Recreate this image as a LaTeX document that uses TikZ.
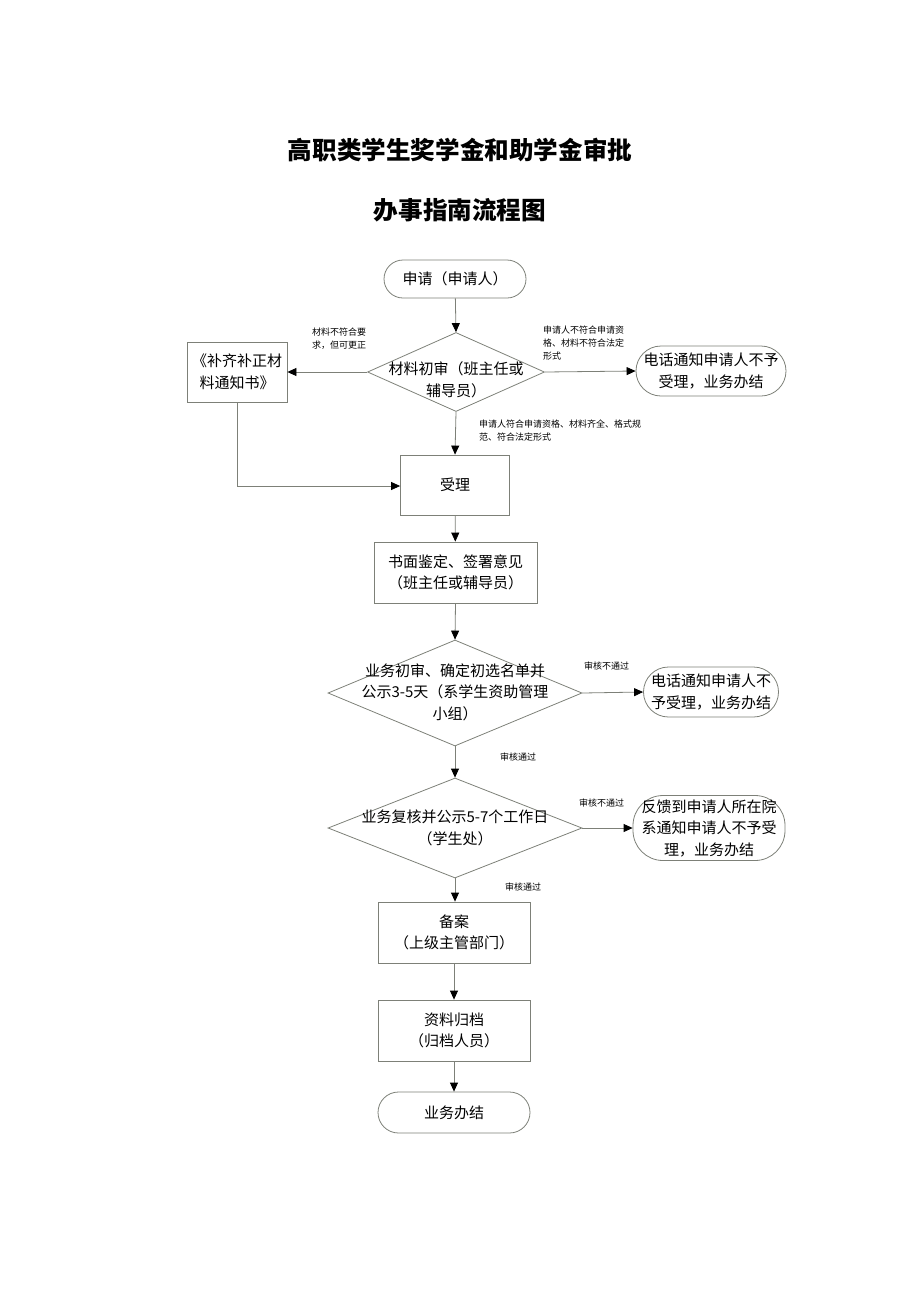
\documentclass[tikz,border=0pt]{standalone}
\usepackage{fontspec}
\setmainfont{Noto Sans CJK SC}
\usetikzlibrary{shapes.geometric,shapes.misc,arrows.meta}
\definecolor{lineC}{RGB}{125,128,120}
\tikzset{
  body/.style={font=\fontsize{15}{21.5}\selectfont, align=center, text=black},
  small/.style={font=\fontsize{9}{13}\selectfont, align=left, text=black, inner sep=0pt, anchor=north west},
  boxst/.style={draw=lineC, line width=0.8pt, rectangle, inner sep=0pt},
  roundst/.style={draw=lineC, line width=0.8pt, rounded rectangle, inner sep=0pt},
  diast/.style={draw=lineC, line width=0.8pt, diamond, inner sep=0pt},
  arr/.style={draw=lineC, line width=0.8pt, -{Triangle[length=9pt,width=8pt,color=black]}},
  ln/.style={draw=lineC, line width=0.8pt}
}
\begin{document}
\begin{tikzpicture}[x=1pt,y=-1pt]
\useasboundingbox (0,0) rectangle (920,1302);
% titles
\node[font=\fontsize{24.6}{30}\selectfont\bfseries] (t1) at (460,150) {高职类学生奖学金和助学金审批};
\node[font=\fontsize{24.6}{30}\selectfont\bfseries] (t2) at (460,210) {办事指南流程图};
% start
\node[roundst, minimum width=142pt, minimum height=38pt, body] (start) at (455,279) {申请（申请人）};
% diamond 1
\node[diast, minimum width=177pt, minimum height=79pt] (d1) at (456,372) {};
\node[body] (d1t) at (456,380) {材料初审（班主任或\\辅导员）};
% left box
\node[boxst, minimum width=100pt, minimum height=60pt, body] (lb) at (237,372) {《补齐补正材\\料通知书》};
% right rounded 1
\node[roundst, minimum width=150pt, minimum height=50pt, body] (r1) at (711,371) {电话通知申请人不予\\受理，业务办结};
% accept
\node[boxst, minimum width=109pt, minimum height=60pt, body] (acc) at (455,485) {受理};
% box 3
\node[boxst, minimum width=163pt, minimum height=61pt, body] (b3) at (455.5,572.5) {书面鉴定、签署意见\\（班主任或辅导员）};
% diamond 2
\node[diast, minimum width=254pt, minimum height=106pt] (d2) at (455,693) {};
\node[body] (d2t) at (455,692) {业务初审、确定初选名单并\\公示3-5天（系学生资助管理\\小组）};
% right rounded 2
\node[roundst, minimum width=134pt, minimum height=50pt, body] (r2) at (711,692) {电话通知申请人不\\予受理，业务办结};
% diamond 3
\node[diast, minimum width=254pt, minimum height=100pt] (d3) at (455,828) {};
\node[body] (d3t) at (455,828) {业务复核并公示5-7个工作日\\（学生处）};
% right rounded 3
\node[draw=lineC, line width=0.8pt, rectangle, rounded corners=30pt, inner sep=0pt, minimum width=152pt, minimum height=65pt, body] (r3) at (709,828) {反馈到申请人所在院\\系通知申请人不予受\\理，业务办结};
% filing
\node[boxst, minimum width=152pt, minimum height=61pt, body] (b4) at (454,932.5) {备案\\（上级主管部门）};
\node[boxst, minimum width=152pt, minimum height=61pt, body] (b5) at (454,1030.5) {资料归档\\（归档人员）};
\node[roundst, minimum width=152pt, minimum height=41pt, body] (end) at (454,1112.5) {业务办结};
% connectors
\draw[arr] (start) -- (d1.north);
\draw[arr] (d1.west) -- (lb.east);
\draw[arr] (d1.east) -- (r1.west);
\draw[arr] (d1.south) -- (acc.north);
\coordinate (lbc) at (237,486);
\draw[ln] (lb.south) -- (lbc);
\draw[arr] (lbc) -- (acc.west |- lbc);
\draw[arr] (acc) -- (b3);
\draw[arr] (b3.south) -- (d2.north);
\draw[arr] (d2.east) -- (r2.west);
\draw[arr] (d2.south) -- (d3.north);
\draw[arr] (d3.east) -- (r3.west);
\draw[arr] (d3.south) -- (b4.north -| d3.south);
\draw[arr] (b4) -- (b5);
\draw[arr] (b5) -- (end);
% labels
\node[small] (l1) at (312,328) {材料不符合要\\求，但可更正};
\node[small] (l2) at (543,326) {申请人不符合申请资\\格、材料不符合法定\\形式};
\node[small] (l3) at (479,420) {申请人符合申请资格、材料齐全、格式规\\范、符合法定形式};
\node[small] (l4) at (584,662) {审核不通过};
\node[small] (l5) at (500,753) {审核通过};
\node[small] (l6) at (579,799) {审核不通过};
\node[small] (l7) at (505,883) {审核通过};
\end{tikzpicture}
\end{document}
